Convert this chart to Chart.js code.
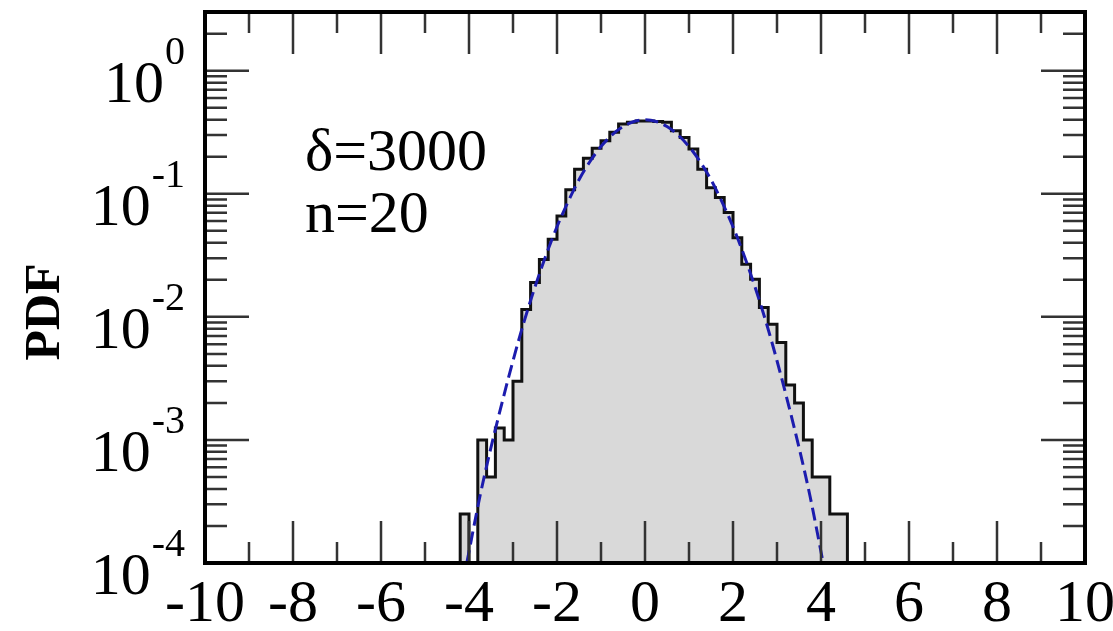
<!DOCTYPE html>
<html>
<head>
<meta charset="utf-8">
<script src="https://cdn.jsdelivr.net/npm/chart.js@4.4.1/dist/chart.umd.min.js"></script>
<style>
  html, body { margin: 0; padding: 0; background: #fff; }
  canvas { display: block; }
</style>
</head>
<body>
<canvas id="pdf-chart" width="1113" height="631"></canvas>
<script>
// --- Data ---
// histogram: left edge of each 0.2 wide bin, and its PDF value
const binLeft = [-4.2, -4.0, -3.8, -3.6, -3.4, -3.2, -3.0, -2.8, -2.6, -2.4, -2.2,
                 -2.0, -1.8, -1.6, -1.4, -1.2, -1.0, -0.8, -0.6, -0.4, -0.2,
                  0.0,  0.2,  0.4,  0.6,  0.8,  1.0,  1.2,  1.4,  1.6,  1.8,
                  2.0,  2.2,  2.4,  2.6,  2.8,  3.0,  3.2,  3.4,  3.6,  3.8,
                  4.0,  4.2,  4.4];
const binWidth = 0.2;
const pdfHist = [2.5e-4, 0, 1.0e-3, 5.0e-4, 1.25e-3, 1.0e-3, 3.0e-3, 0.0115, 0.019, 0.0293, 0.0427,
                 0.066, 0.108, 0.158, 0.194, 0.234, 0.270, 0.316, 0.369, 0.381, 0.390,
                 0.390, 0.386, 0.381, 0.325, 0.287, 0.231, 0.158, 0.112, 0.0933, 0.0705,
                 0.044, 0.0267, 0.0202, 0.0119, 0.0087, 0.0062, 0.0028, 0.0020, 0.0010, 5.0e-4,
                 5.0e-4, 2.5e-4, 2.5e-4];

// blue dashed fit curve
const fitX   = [-4.05, -3.75, -3.5, -3.25, -3.0, -2.75, -2.5, -2.25, -2.0, -1.75, -1.5, -1.25, -1.0, -0.75, -0.5, -0.25,
                 0.0,  0.25,  0.5,  0.75,  1.0,  1.25,  1.5,  1.75,  2.0,  2.25,  2.5,  2.75,  3.0,  3.25,  3.5,  3.75, 4.05];
const fitPdf = [1.0e-4, 3.5e-4, 8.7e-4, 2.0e-3, 4.4e-3, 9.1e-3, 0.0175, 0.0317, 0.054, 0.086, 0.130, 0.183, 0.242, 0.301, 0.352, 0.387,
                0.399, 0.387, 0.352, 0.301, 0.242, 0.183, 0.130, 0.086, 0.054, 0.0317, 0.0175, 9.1e-3, 4.4e-3, 2.0e-3, 8.7e-4, 3.5e-4, 1.0e-4];

const xTicks = [-10, -8, -6, -4, -2, 0, 2, 4, 6, 8, 10];
const yDecades = [0, -1, -2, -3, -4];
const noteLines = ['δ=3000', 'n=20'];
const yTitle = 'PDF';

const FLOOR = 1e-7; // empty bins sit below the axis
const SERIF = '"Liberation Serif", "DejaVu Serif", serif';

// --- Build the step outline of the histogram ---
// each point holds its bin value until the next point (Chart.js 'before' stepping)
function histPoints() {
    const pts = [{ x: binLeft[0], y: FLOOR }];
    binLeft.forEach((x0, i) => pts.push({ x: x0, y: pdfHist[i] > 0 ? pdfHist[i] : FLOOR }));
    pts.push({ x: binLeft[binLeft.length - 1] + binWidth, y: FLOOR });
    return pts;
}

// --- Frame, inward ticks and all labels ---
const frameAndLabels = {
    id: 'frameAndLabels',
    afterDraw(chart) {
        const { ctx, chartArea: a, scales: { x, y } } = chart;
        ctx.save();

        // minor/major ticks pointing inwards on all four sides
        ctx.strokeStyle = '#333';
        ctx.lineWidth = 2.5;
        ctx.beginPath();
        for (let v = -10; v <= 10; v++) {
            const px = x.getPixelForValue(v);
            const len = v % 2 === 0 ? 42 : 21;
            ctx.moveTo(px, a.bottom); ctx.lineTo(px, a.bottom - len);
            ctx.moveTo(px, a.top);    ctx.lineTo(px, a.top + len);
        }
        for (let d = -4; d <= 0; d++) {
            for (let m = 1; m <= 9; m++) {
                const v = m * Math.pow(10, d);
                if (v > y.max) break;
                const py = y.getPixelForValue(v);
                const len = m === 1 ? 44 : 22;
                ctx.moveTo(a.left, py);  ctx.lineTo(a.left + len, py);
                ctx.moveTo(a.right, py); ctx.lineTo(a.right - len, py);
            }
        }
        ctx.stroke();

        // frame
        ctx.strokeStyle = '#000';
        ctx.lineWidth = 4;
        ctx.strokeRect(a.left, a.top, a.right - a.left, a.bottom - a.top);

        ctx.fillStyle = '#000';

        // x tick labels
        ctx.font = `60px ${SERIF}`;
        ctx.textAlign = 'center';
        ctx.textBaseline = 'alphabetic';
        xTicks.forEach(v => ctx.fillText(String(v), x.getPixelForValue(v), a.bottom + 58));

        // y tick labels 10^n
        yDecades.forEach(d => {
            const py = y.getPixelForValue(Math.pow(10, d));
            const exp = String(d);
            ctx.font = `40px ${SERIF}`;
            ctx.textAlign = 'right';
            ctx.fillText(exp, 185, py - 7);
            const ew = ctx.measureText(exp).width;
            ctx.font = `60px ${SERIF}`;
            ctx.fillText('10', 185 - ew - 1, py + 31);
        });

        // annotation
        ctx.font = `60px ${SERIF}`;
        ctx.textAlign = 'left';
        noteLines.forEach((t, i) => ctx.fillText(t, 305, 170 + i * 62));

        // axis title
        ctx.translate(46, 312);
        ctx.rotate(-Math.PI / 2);
        ctx.font = `bold 50px ${SERIF}`;
        ctx.textAlign = 'center';
        ctx.textBaseline = 'middle';
        ctx.fillText(yTitle, 0, 0);

        ctx.restore();
    }
};

new Chart(document.getElementById('pdf-chart'), {
    type: 'line',
    data: {
        datasets: [
            {
                label: 'fit',
                data: fitX.map((x, i) => ({ x, y: fitPdf[i] })),
                borderColor: '#1c1cae',
                borderWidth: 3,
                borderDash: [13, 6],
                pointRadius: 0,
                cubicInterpolationMode: 'monotone',
                fill: false,
                order: 0
            },
            {
                label: 'histogram',
                data: histPoints(),
                stepped: 'before',
                borderColor: '#111',
                borderWidth: 3,
                backgroundColor: '#d9d9d9',
                pointRadius: 0,
                fill: 'start',
                order: 1
            }
        ]
    },
    options: {
        responsive: false,
        animation: false,
        layout: { padding: { left: 205, right: 28, top: 12, bottom: 68 } },
        plugins: { legend: { display: false }, tooltip: { enabled: false } },
        scales: {
            x: { type: 'linear', min: -10, max: 10, display: false },
            y: { type: 'logarithmic', min: 1e-4, max: 3, display: false }
        }
    },
    plugins: [frameAndLabels]
});
</script>
</body>
</html>
